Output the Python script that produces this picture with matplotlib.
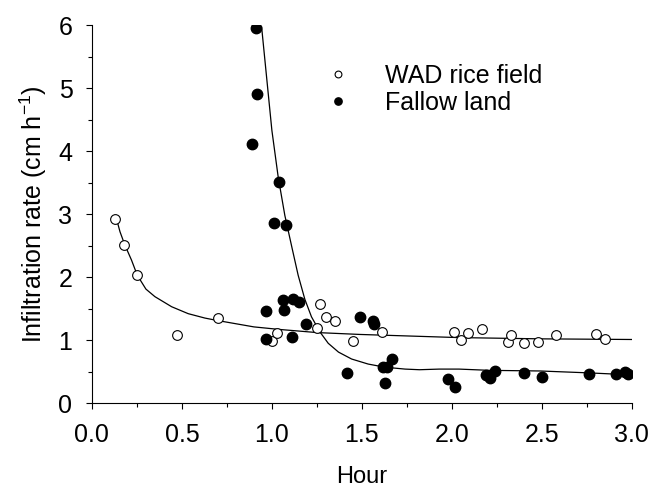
import matplotlib
matplotlib.use("Agg")
import matplotlib.pyplot as plt
from matplotlib.ticker import MultipleLocator

plt.rcParams["font.family"] = ["Liberation Sans", "DejaVu Sans"]
plt.rcParams["mathtext.fontset"] = "custom"
plt.rcParams["mathtext.rm"] = "Liberation Sans"

# WAD rice field observations
wad_x = [0.13, 0.18, 0.25, 0.47, 0.70, 1.00, 1.03, 1.25, 1.27, 1.30, 1.35, 1.45,
         1.61, 2.01, 2.05, 2.09, 2.17, 2.31, 2.33, 2.40, 2.48, 2.58, 2.80, 2.85]
wad_y = [2.92, 2.51, 2.03, 1.08, 1.35, 0.98, 1.11, 1.19, 1.57, 1.37, 1.30, 0.98,
         1.13, 1.13, 1.00, 1.11, 1.17, 0.97, 1.08, 0.95, 0.97, 1.08, 1.10, 1.02]

# Fallow land observations
fallow_x = [0.91, 0.92, 0.89, 1.04, 1.01, 1.08, 0.97, 0.97, 1.06, 1.07, 1.12, 1.15,
            1.11, 1.19, 1.42, 1.49, 1.56, 1.57, 1.62, 1.64, 1.67, 1.63, 1.98, 2.02,
            2.19, 2.21, 2.24, 2.40, 2.50, 2.76, 2.91, 2.96, 2.98]
fallow_y = [5.95, 4.90, 4.12, 3.51, 2.86, 2.82, 1.46, 1.02, 1.64, 1.48, 1.66, 1.61,
            1.05, 1.26, 0.48, 1.36, 1.31, 1.26, 0.58, 0.58, 0.70, 0.32, 0.38, 0.26,
            0.44, 0.40, 0.51, 0.48, 0.41, 0.46, 0.46, 0.49, 0.46]

# fitted curves
wad_fit_x = [0.137, 0.156, 0.183, 0.22, 0.252, 0.30, 0.35, 0.443, 0.535, 0.628,
             0.70, 0.80, 0.90, 1.04, 1.25, 1.49, 1.82, 2.04, 2.5, 3.0]
wad_fit_y = [2.92, 2.72, 2.51, 2.27, 2.03, 1.81, 1.69, 1.53, 1.42, 1.35,
             1.31, 1.26, 1.21, 1.17, 1.12, 1.09, 1.06, 1.04, 1.02, 1.01]
fallow_fit_x = [0.943, 0.976, 1.0, 1.035, 1.072, 1.113, 1.146, 1.183, 1.22, 1.267,
                1.313, 1.37, 1.443, 1.535, 1.628, 1.74, 1.82, 1.93, 2.04, 2.21,
                2.49, 2.76, 2.91, 2.98]
fallow_fit_y = [5.97, 5.02, 4.33, 3.59, 2.98, 2.45, 2.03, 1.65, 1.37, 1.13,
                0.95, 0.81, 0.70, 0.62, 0.57, 0.54, 0.53, 0.54, 0.54, 0.52,
                0.51, 0.48, 0.46, 0.46]

fig = plt.figure(figsize=(6.52, 4.94), dpi=100)
ax = fig.add_axes([0.141, 0.184, 0.828, 0.765])

ax.plot(wad_fit_x, wad_fit_y, color="black", lw=0.9, zorder=2)
ax.plot(fallow_fit_x, fallow_fit_y, color="black", lw=0.9, zorder=2)
ax.plot(wad_x, wad_y, "o", ms=7, mfc="white", mec="black", mew=0.8,
        label="WAD rice field", zorder=3)
ax.plot(fallow_x, fallow_y, "o", ms=7.5, mfc="black", mec="black",
        label="Fallow land", zorder=3)

ax.set_xlim(0, 3.0)
ax.set_ylim(0, 6)
ax.xaxis.set_major_locator(MultipleLocator(0.5))
ax.xaxis.set_minor_locator(MultipleLocator(0.25))
ax.yaxis.set_major_locator(MultipleLocator(1))
ax.yaxis.set_minor_locator(MultipleLocator(0.5))
ax.xaxis.set_major_formatter(plt.FuncFormatter(lambda v, p: f"{v:.1f}"))

for s in ["top", "right"]:
    ax.spines[s].set_visible(False)
for s in ["left", "bottom"]:
    ax.spines[s].set_linewidth(0.8)
ax.tick_params(which="major", direction="out", length=4, width=0.8,
               labelsize=18, pad=10)
ax.tick_params(which="minor", direction="out", length=3, width=0.8)

ax.set_xlabel("Hour", fontsize=17, labelpad=14)
ax.set_ylabel("Infiltration rate (cm h$^{-1}$)", fontsize=18, labelpad=7)

ax.legend(loc="upper left", bbox_to_anchor=(0.432, 0.897), frameon=False,
          fontsize=18, markerscale=0.7, handlelength=1.0, handletextpad=1.38,
          labelspacing=0.12, borderpad=0, borderaxespad=0)

fig.savefig("out.png", dpi=100)
